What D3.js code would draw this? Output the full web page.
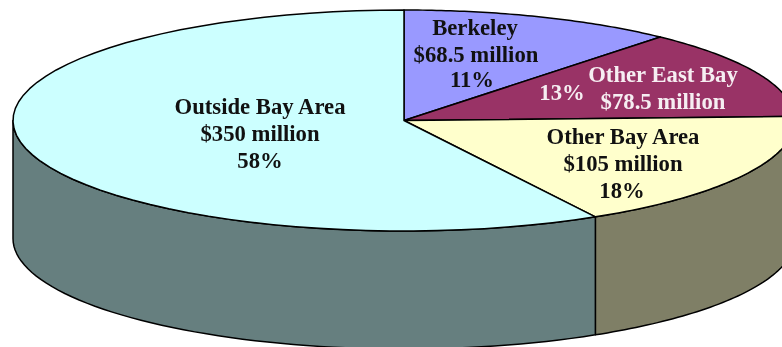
<!DOCTYPE html>
<html><head><meta charset="utf-8">
<script src="https://cdn.jsdelivr.net/npm/d3@7"></script>
<style>html,body{margin:0;padding:0;background:#fff;overflow:hidden}svg{display:block;filter:blur(.5px)}text{font-family:"Liberation Serif",serif;font-weight:700;font-size:22.7px;text-anchor:middle}</style>
</head><body><svg id="c" width="782" height="347"></svg>
<script>
const categories=["Berkeley","Other East Bay","Other Bay Area","Outside Bay Area"];
const amounts=[68.5,78.5,105,350];
const amountLabels=["$68.5 million","$78.5 million","$105 million","$350 million"];
const percentLabels=["11%","13%","18%","58%"];
const topColors=["#9999ff","#993366","#ffffcc","#ccffff"];
const wallColors=["#4d4d80","#4d1a33","#7f7f66","#667f7f"];

const W=782,H=347,cx=404,cy=120.5,rx=391,ry=110.5,depth=118;
const svg=d3.select("#c");
const sx=d3.scaleLinear().domain([-1,1]).range([cx-rx,cx+rx]);
const sy=d3.scaleLinear().domain([-1,1]).range([cy-ry,cy+ry]);
const arcs=d3.pie().sort(null).value(d=>d)(amounts);
const px=a=>sx(Math.sin(a)), py=a=>sy(-Math.cos(a));
const samples=(a,b)=>d3.range(0,61).map(i=>a+(b-a)*i/60);

arcs.forEach((d,i)=>{
  const a=Math.max(d.startAngle,Math.PI/2), b=Math.min(d.endAngle,Math.PI*1.5);
  if(b<=a) return;
  const t=samples(a,b);
  const pts=t.map(v=>[px(v),py(v)]).concat(t.slice().reverse().map(v=>[px(v),py(v)+depth]));
  svg.append("path").attr("d",d3.line()(pts)+"Z")
    .attr("fill",wallColors[i]).attr("stroke","#000").attr("stroke-width",1.5).attr("stroke-linejoin","round");
});
arcs.forEach((d,i)=>{
  const pts=[[cx,cy]].concat(samples(d.startAngle,d.endAngle).map(v=>[px(v),py(v)]));
  svg.append("path").attr("d",d3.line()(pts)+"Z")
    .attr("fill",topColors[i]).attr("stroke","#000").attr("stroke-width",1.5).attr("stroke-linejoin","round");
});

const lines=[
 {t:categories[3],x:260,y:114,c:"#111"},{t:amountLabels[3],x:260,y:141,c:"#111"},{t:percentLabels[3],x:260,y:168,c:"#111"},
 {t:categories[0],x:475,y:35,c:"#111"},{t:amountLabels[0],x:476,y:62,c:"#111"},{t:percentLabels[0],x:472,y:87,c:"#111"},
 {t:percentLabels[1],x:562,y:100,c:"#f6eef2"},{t:categories[1],x:663,y:82,c:"#f6eef2"},{t:amountLabels[1],x:663,y:109,c:"#f6eef2"},
 {t:categories[2],x:623,y:144,c:"#111"},{t:amountLabels[2],x:623,y:171,c:"#111"},{t:percentLabels[2],x:622,y:198,c:"#111"}
];
svg.selectAll("text").data(lines).join("text").attr("x",d=>d.x).attr("y",d=>d.y).attr("fill",d=>d.c).text(d=>d.t);
</script></body></html>
